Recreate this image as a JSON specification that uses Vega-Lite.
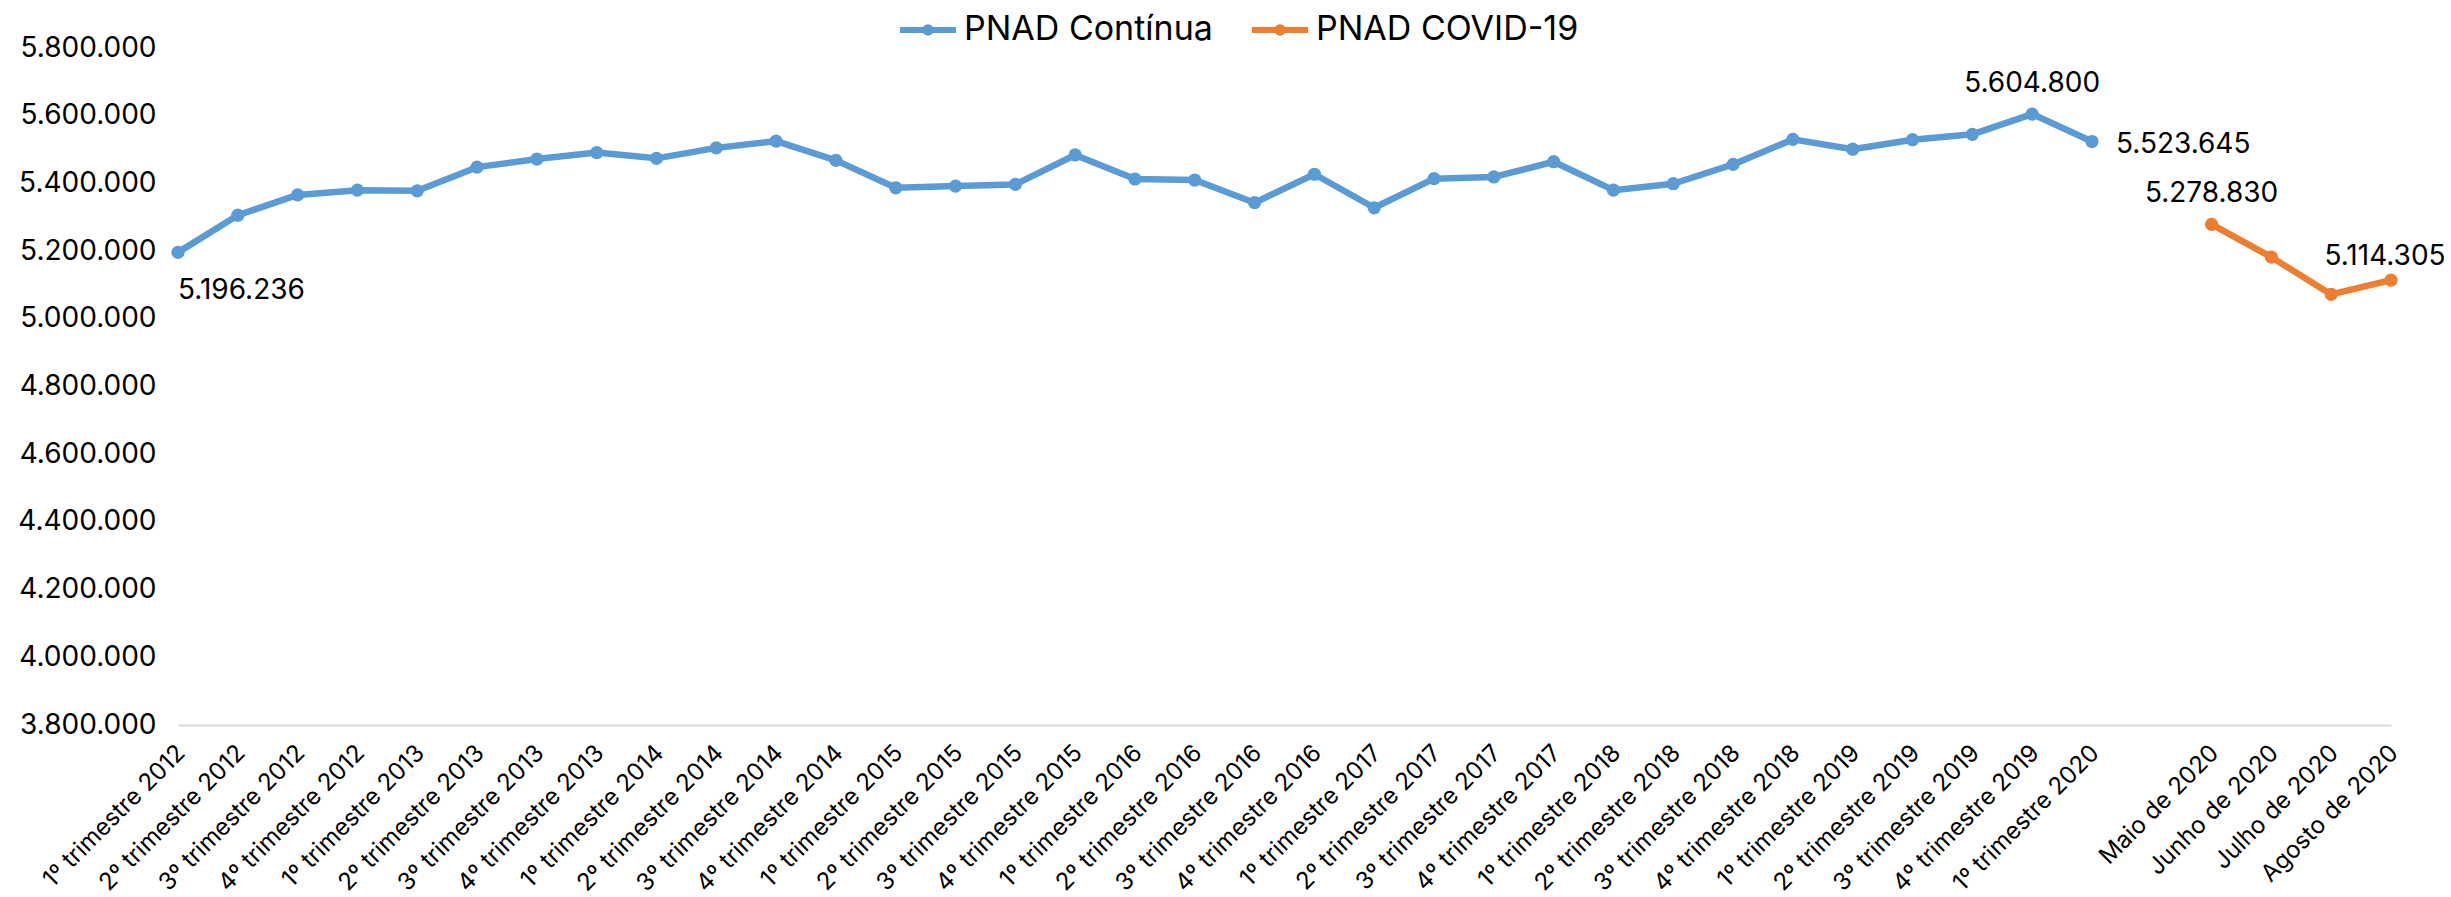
{
  "$schema": "https://vega.github.io/schema/vega-lite/v6.json",
  "width": 2213,
  "height": 677,
  "autosize": {"type": "none"},
  "padding": {"left": 178, "top": 48, "right": 60, "bottom": 172},
  "config": {
    "view": {"stroke": null},
    "font": "Inter",
    "locale": {"number": {"decimal": ",", "thousands": ".", "grouping": [3], "currency": ["R$", ""]}}
  },
  "data": {
    "values": [
      {"periodo": "1º trimestre 2012", "valor": 5196236, "serie": "PNAD Contínua"},
      {"periodo": "2º trimestre 2012", "valor": 5306000, "serie": "PNAD Contínua"},
      {"periodo": "3º trimestre 2012", "valor": 5366000, "serie": "PNAD Contínua"},
      {"periodo": "4º trimestre 2012", "valor": 5380000, "serie": "PNAD Contínua"},
      {"periodo": "1º trimestre 2013", "valor": 5378000, "serie": "PNAD Contínua"},
      {"periodo": "2º trimestre 2013", "valor": 5448000, "serie": "PNAD Contínua"},
      {"periodo": "3º trimestre 2013", "valor": 5472000, "serie": "PNAD Contínua"},
      {"periodo": "4º trimestre 2013", "valor": 5491000, "serie": "PNAD Contínua"},
      {"periodo": "1º trimestre 2014", "valor": 5474000, "serie": "PNAD Contínua"},
      {"periodo": "2º trimestre 2014", "valor": 5505000, "serie": "PNAD Contínua"},
      {"periodo": "3º trimestre 2014", "valor": 5525000, "serie": "PNAD Contínua"},
      {"periodo": "4º trimestre 2014", "valor": 5468000, "serie": "PNAD Contínua"},
      {"periodo": "1º trimestre 2015", "valor": 5387000, "serie": "PNAD Contínua"},
      {"periodo": "2º trimestre 2015", "valor": 5392000, "serie": "PNAD Contínua"},
      {"periodo": "3º trimestre 2015", "valor": 5397000, "serie": "PNAD Contínua"},
      {"periodo": "4º trimestre 2015", "valor": 5484000, "serie": "PNAD Contínua"},
      {"periodo": "1º trimestre 2016", "valor": 5413000, "serie": "PNAD Contínua"},
      {"periodo": "2º trimestre 2016", "valor": 5410000, "serie": "PNAD Contínua"},
      {"periodo": "3º trimestre 2016", "valor": 5343000, "serie": "PNAD Contínua"},
      {"periodo": "4º trimestre 2016", "valor": 5427000, "serie": "PNAD Contínua"},
      {"periodo": "1º trimestre 2017", "valor": 5328000, "serie": "PNAD Contínua"},
      {"periodo": "2º trimestre 2017", "valor": 5414000, "serie": "PNAD Contínua"},
      {"periodo": "3º trimestre 2017", "valor": 5419000, "serie": "PNAD Contínua"},
      {"periodo": "4º trimestre 2017", "valor": 5464000, "serie": "PNAD Contínua"},
      {"periodo": "1º trimestre 2018", "valor": 5380000, "serie": "PNAD Contínua"},
      {"periodo": "2º trimestre 2018", "valor": 5399000, "serie": "PNAD Contínua"},
      {"periodo": "3º trimestre 2018", "valor": 5456000, "serie": "PNAD Contínua"},
      {"periodo": "4º trimestre 2018", "valor": 5530000, "serie": "PNAD Contínua"},
      {"periodo": "1º trimestre 2019", "valor": 5501000, "serie": "PNAD Contínua"},
      {"periodo": "2º trimestre 2019", "valor": 5529000, "serie": "PNAD Contínua"},
      {"periodo": "3º trimestre 2019", "valor": 5545000, "serie": "PNAD Contínua"},
      {"periodo": "4º trimestre 2019", "valor": 5604800, "serie": "PNAD Contínua"},
      {"periodo": "1º trimestre 2020", "valor": 5523645, "serie": "PNAD Contínua"},
      {"periodo": "Maio de 2020", "valor": 5278830, "serie": "PNAD COVID-19"},
      {"periodo": "Junho de 2020", "valor": 5182000, "serie": "PNAD COVID-19"},
      {"periodo": "Julho de 2020", "valor": 5072000, "serie": "PNAD COVID-19"},
      {"periodo": "Agosto de 2020", "valor": 5114305, "serie": "PNAD COVID-19"}
    ]
  },
  "encoding": {
    "x": {
      "field": "periodo",
      "type": "nominal",
      "title": null,
      "scale": {
        "type": "point",
        "padding": 0,
        "domain": [
          "1º trimestre 2012", "2º trimestre 2012", "3º trimestre 2012", "4º trimestre 2012",
          "1º trimestre 2013", "2º trimestre 2013", "3º trimestre 2013", "4º trimestre 2013",
          "1º trimestre 2014", "2º trimestre 2014", "3º trimestre 2014", "4º trimestre 2014",
          "1º trimestre 2015", "2º trimestre 2015", "3º trimestre 2015", "4º trimestre 2015",
          "1º trimestre 2016", "2º trimestre 2016", "3º trimestre 2016", "4º trimestre 2016",
          "1º trimestre 2017", "2º trimestre 2017", "3º trimestre 2017", "4º trimestre 2017",
          "1º trimestre 2018", "2º trimestre 2018", "3º trimestre 2018", "4º trimestre 2018",
          "1º trimestre 2019", "2º trimestre 2019", "3º trimestre 2019", "4º trimestre 2019",
          "1º trimestre 2020", " ",
          "Maio de 2020", "Junho de 2020", "Julho de 2020", "Agosto de 2020"
        ]
      },
      "axis": {
        "domain": true,
        "domainColor": "#D9D9D9",
        "domainWidth": 2,
        "ticks": false,
        "grid": false,
        "labelAngle": -45,
        "labelAlign": "right",
        "labelBaseline": "middle",
        "labelPadding": 24,
        "labelOffset": 3,
        "labelFont": "Inter",
        "labelFontSize": 24,
        "labelColor": "#000000",
        "labelOverlap": false,
        "labelLimit": 400
      }
    },
    "y": {
      "field": "valor",
      "type": "quantitative",
      "title": null,
      "scale": {"domain": [3800000, 5800000], "nice": false, "zero": false},
      "axis": {
        "values": [3800000, 4000000, 4200000, 4400000, 4600000, 4800000, 5000000, 5200000, 5400000, 5600000, 5800000],
        "format": ",d",
        "domain": false,
        "ticks": false,
        "grid": false,
        "labelPadding": 22,
        "labelFont": "Inter",
        "labelFontSize": 28,
        "labelColor": "#000000"
      }
    }
  },
  "layer": [
    {
      "mark": {"type": "line", "strokeWidth": 6.5, "strokeCap": "round", "strokeJoin": "round"},
      "encoding": {
        "color": {
          "field": "serie",
          "type": "nominal",
          "scale": {"domain": ["PNAD Contínua", "PNAD COVID-19"], "range": ["#5B9BD5", "#ED7D31"]},
          "legend": {
            "title": null,
            "orient": "none",
            "direction": "horizontal",
            "legendX": 719,
            "legendY": -49,
            "symbolType": "M-1,0L1,0M0.1,0A0.1,0.1,0,1,1,-0.1,0A0.1,0.1,0,1,1,0.1,0",
            "symbolSize": 3136,
            "symbolStrokeWidth": 6,
            "labelFont": "Inter",
            "labelFontSize": 34,
            "labelColor": "#000000",
            "labelOffset": 5,
            "columnPadding": 27,
            "labelLimit": 400
          }
        }
      }
    },
    {
      "mark": {"type": "point", "filled": true, "size": 175, "opacity": 1},
      "encoding": {
        "color": {"field": "serie", "type": "nominal"}
      }
    },
    {
      "transform": [{"filter": "datum.periodo === '1º trimestre 2012'"}],
      "mark": {"type": "text", "align": "left", "baseline": "middle", "dy": 39, "font": "Inter", "fontSize": 28, "color": "#000000"},
      "encoding": {"text": {"field": "valor", "type": "quantitative", "format": ",d"}}
    },
    {
      "transform": [{"filter": "datum.periodo === '4º trimestre 2019' || datum.periodo === 'Maio de 2020'"}],
      "mark": {"type": "text", "align": "center", "baseline": "middle", "dy": -30, "font": "Inter", "fontSize": 28, "color": "#000000"},
      "encoding": {"text": {"field": "valor", "type": "quantitative", "format": ",d"}}
    },
    {
      "transform": [{"filter": "datum.periodo === 'Agosto de 2020'"}],
      "mark": {"type": "text", "align": "center", "baseline": "middle", "dy": -23, "dx": -6, "font": "Inter", "fontSize": 28, "color": "#000000"},
      "encoding": {"text": {"field": "valor", "type": "quantitative", "format": ",d"}}
    },
    {
      "transform": [{"filter": "datum.periodo === '1º trimestre 2020'"}],
      "mark": {"type": "text", "align": "left", "baseline": "middle", "dx": 24, "dy": 3, "font": "Inter", "fontSize": 28, "color": "#000000"},
      "encoding": {"text": {"field": "valor", "type": "quantitative", "format": ",d"}}
    }
  ]
}
